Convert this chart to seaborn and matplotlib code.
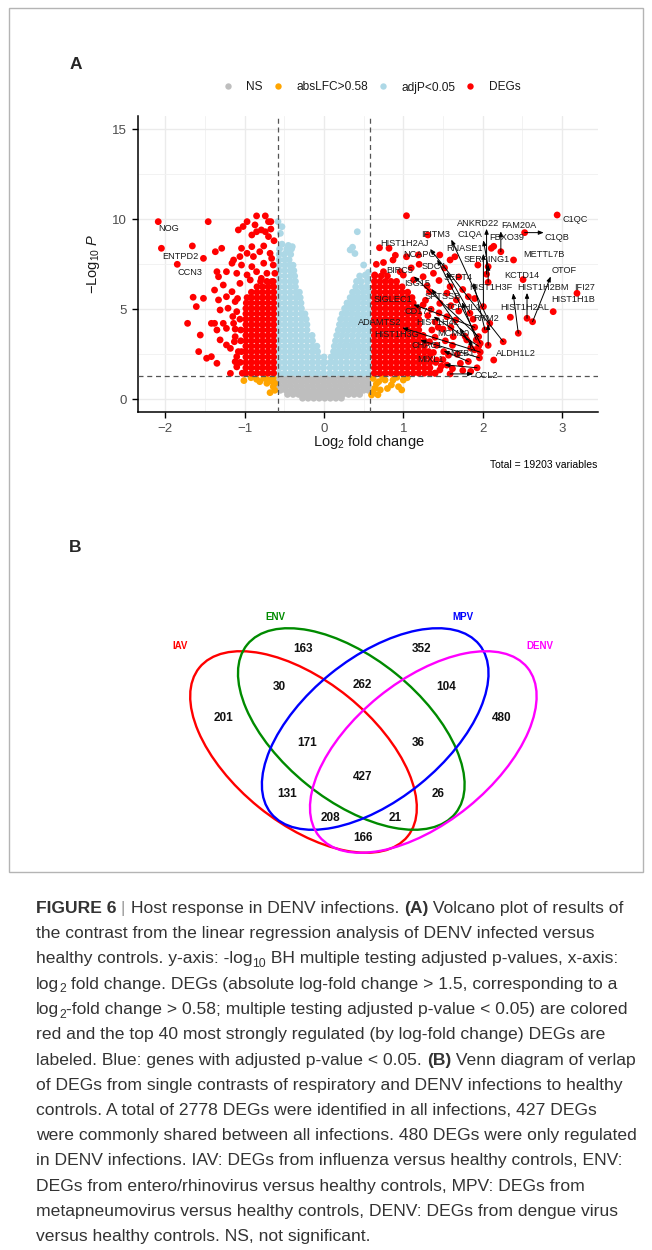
import numpy as np
import pandas as pd
import matplotlib
matplotlib.use("Agg")
import matplotlib.pyplot as plt
import seaborn as sns
from matplotlib.patches import Ellipse, Rectangle
from matplotlib.lines import Line2D

sns.set_theme(style="white")
plt.rcParams["font.family"] = ["Liberation Sans", "DejaVu Sans"]
plt.rcParams["mathtext.fontset"] = "custom"
plt.rcParams["mathtext.rm"] = "Liberation Sans"
plt.rcParams["mathtext.it"] = "Liberation Sans:italic"
plt.rcParams["mathtext.bf"] = "Liberation Sans:bold"

# ------------------------------------------------------------------ data
# Volcano plot: (log2 fold change, -log10 adjusted p)
ns_rows = [
    (1.22, [-0.56, -0.49, -0.42, -0.35, -0.28, -0.21, -0.14, -0.07, 0.00, 0.07, 0.14, 0.21, 0.28, 0.35, 0.42, 0.49, 0.56]),
    (0.98, [-0.57, -0.50, -0.43, -0.36, -0.29, -0.22, -0.15, -0.08, -0.01, 0.06, 0.13, 0.20, 0.27, 0.34, 0.41, 0.48, 0.55]),
    (0.74, [-0.56, -0.49, -0.42, -0.35, -0.28, -0.21, -0.14, -0.07, 0.00, 0.07, 0.14, 0.21, 0.28, 0.35, 0.42, 0.49, 0.56]),
    (0.50, [-0.55, -0.48, -0.41, -0.34, -0.27, -0.20, -0.13, -0.06, 0.01, 0.08, 0.15, 0.22, 0.29, 0.36, 0.43, 0.50, 0.56]),
    (0.27, [-0.46, -0.39, -0.32, -0.25, -0.18, -0.11, -0.04, 0.03, 0.10, 0.17, 0.24, 0.31, 0.38, 0.45]),
    (0.06, [-0.27, -0.20, -0.13, -0.06, 0.01, 0.08, 0.15, 0.22]),
]

lfc_points = [(-1.01, 1.04), (-0.92, 1.20), (-0.85, 1.11), (-0.81, 0.98), (-0.76, 1.17), (-0.75, 1.25),
              (-0.72, 0.89), (-0.70, 1.07), (-0.66, 1.00), (-0.64, 1.17), (-0.64, 0.70), (-0.62, 0.89),
              (-0.62, 0.50), (-0.68, 0.37), (0.62, 1.16), (0.74, 1.22), (0.92, 1.22), (1.05, 1.20),
              (0.69, 0.98), (0.77, 1.07), (0.87, 1.07), (1.00, 1.07), (0.66, 0.85), (0.85, 0.80),
              (0.94, 0.70), (0.64, 0.61), (0.80, 0.60), (0.71, 0.52), (0.98, 0.52), (0.62, 0.40),
              (0.68, 0.25), (0.60, 0.24)]

padj_left_rows = [
    (1.45, [-0.565, -0.495, -0.425, -0.355, -0.285, -0.215, -0.145, -0.075, -0.005]),
    (1.75, [-0.565, -0.495, -0.425, -0.355, -0.285, -0.215, -0.145, -0.075, -0.005]),
    (2.05, [-0.565, -0.495, -0.425, -0.355, -0.285, -0.215, -0.145, -0.075, -0.01]),
    (2.35, [-0.565, -0.495, -0.425, -0.355, -0.285, -0.215, -0.145, -0.075]),
    (2.65, [-0.565, -0.495, -0.425, -0.355, -0.285, -0.215, -0.145, -0.08]),
    (2.95, [-0.565, -0.495, -0.425, -0.355, -0.285, -0.215, -0.145, -0.09]),
    (3.25, [-0.565, -0.495, -0.425, -0.355, -0.285, -0.215, -0.145]),
    (3.55, [-0.565, -0.495, -0.425, -0.355, -0.285, -0.215, -0.15]),
    (3.85, [-0.565, -0.495, -0.425, -0.355, -0.285, -0.215]),
    (4.15, [-0.565, -0.495, -0.425, -0.355, -0.285, -0.215]),
    (4.45, [-0.565, -0.495, -0.425, -0.355, -0.285, -0.225]),
    (4.75, [-0.565, -0.495, -0.425, -0.355, -0.285, -0.24]),
    (5.05, [-0.565, -0.495, -0.425, -0.355, -0.285]),
    (5.35, [-0.565, -0.495, -0.425, -0.355, -0.29]),
    (5.65, [-0.565, -0.495, -0.425, -0.355, -0.30]),
    (5.95, [-0.565, -0.495, -0.425, -0.355, -0.31]),
    (6.25, [-0.565, -0.495, -0.425, -0.36]),
    (6.55, [-0.565, -0.495, -0.425, -0.36]),
    (6.85, [-0.565, -0.495, -0.425, -0.37]),
    (7.15, [-0.565, -0.495, -0.425, -0.38]),
    (7.45, [-0.565, -0.495, -0.43, -0.39]),
    (7.75, [-0.565, -0.495, -0.44]),
    (8.05, [-0.565, -0.50, -0.42]),
    (8.35, [-0.56, -0.47, -0.41]),
]
padj_right_rows = [
    (1.45, [0.075, 0.145, 0.215, 0.285, 0.355, 0.425, 0.495, 0.565]),
    (1.75, [0.075, 0.145, 0.215, 0.285, 0.355, 0.425, 0.495, 0.565]),
    (2.05, [0.08, 0.145, 0.215, 0.285, 0.355, 0.425, 0.495, 0.565]),
    (2.35, [0.09, 0.15, 0.215, 0.285, 0.355, 0.425, 0.495, 0.565]),
    (2.65, [0.12, 0.18, 0.245, 0.31, 0.375, 0.44, 0.50, 0.565]),
    (2.95, [0.13, 0.19, 0.255, 0.32, 0.38, 0.44, 0.50, 0.565]),
    (3.25, [0.145, 0.215, 0.285, 0.355, 0.425, 0.495, 0.565]),
    (3.55, [0.16, 0.225, 0.29, 0.36, 0.43, 0.50, 0.565]),
    (3.85, [0.18, 0.245, 0.31, 0.375, 0.44, 0.50, 0.565]),
    (4.15, [0.195, 0.26, 0.32, 0.38, 0.44, 0.50, 0.565]),
    (4.45, [0.21, 0.275, 0.34, 0.40, 0.46, 0.51, 0.565]),
    (4.75, [0.23, 0.29, 0.355, 0.425, 0.495, 0.565]),
    (5.05, [0.26, 0.32, 0.38, 0.44, 0.50, 0.565]),
    (5.35, [0.29, 0.355, 0.425, 0.495, 0.565]),
    (5.65, [0.33, 0.39, 0.45, 0.51, 0.565]),
    (5.95, [0.36, 0.425, 0.495, 0.565]),
    (6.25, [0.40, 0.47, 0.54]),
    (6.55, [0.41, 0.47, 0.55]),
]
padj_points = [(-0.58, 9.87), (-0.53, 9.59), (-0.55, 9.22), (-0.53, 8.62), (-0.45, 8.55), (-0.40, 8.48),
               (-0.47, 8.20), (0.42, 9.31), (0.33, 8.30), (0.39, 8.10), (0.36, 8.45), (0.50, 7.46),
               (0.52, 6.90), (0.56, 7.05), (0.45, 6.85), (0.55, 6.70), (0.00, 2.35), (0.01, 2.05)]

deg_left_rows = [
    (1.45, [-0.635, -0.705, -0.775, -0.845, -0.915, -0.985, -1.03]),
    (1.75, [-0.635, -0.705, -0.775, -0.845, -0.915, -0.985]),
    (2.05, [-0.635, -0.705, -0.775, -0.845, -0.915, -0.985, -1.055]),
    (2.35, [-0.635, -0.705, -0.775, -0.845, -0.915, -0.985]),
    (2.65, [-0.635, -0.705, -0.775, -0.845, -0.915, -0.985, -1.04]),
    (2.95, [-0.635, -0.705, -0.775, -0.845, -0.915, -0.985]),
    (3.25, [-0.635, -0.705, -0.775, -0.845, -0.915, -0.985, -1.05]),
    (3.55, [-0.635, -0.705, -0.775, -0.845, -0.915, -0.985]),
    (3.85, [-0.635, -0.705, -0.775, -0.845, -0.915, -0.985, -1.05]),
    (4.15, [-0.635, -0.705, -0.775, -0.845, -0.915, -0.985]),
    (4.45, [-0.635, -0.705, -0.775, -0.845, -0.915, -0.985, -1.06]),
    (4.75, [-0.635, -0.705, -0.775, -0.845, -0.915, -0.985]),
    (5.05, [-0.635, -0.705, -0.775, -0.845, -0.915, -0.985]),
    (5.35, [-0.635, -0.705, -0.775, -0.845, -0.915, -0.98]),
    (5.65, [-0.635, -0.705, -0.775, -0.845, -0.915, -0.97]),
    (5.95, [-0.635, -0.705, -0.775, -0.845, -0.915]),
    (6.25, [-0.635, -0.705, -0.775, -0.845]),
    (6.55, [-0.64, -0.72, -0.80]),
]
deg_right_rows = [
    (1.45, [0.635, 0.705, 0.775, 0.845, 0.915, 0.985, 1.055, 1.125, 1.195, 1.265, 1.335, 1.40]),
    (1.75, [0.635, 0.705, 0.775, 0.845, 0.915, 0.985, 1.055, 1.125, 1.195, 1.265, 1.335]),
    (2.05, [0.635, 0.705, 0.775, 0.845, 0.915, 0.985, 1.055, 1.125, 1.195, 1.265, 1.335, 1.41]),
    (2.35, [0.635, 0.705, 0.775, 0.845, 0.915, 0.985, 1.055, 1.125, 1.195, 1.265, 1.335]),
    (2.65, [0.635, 0.705, 0.775, 0.845, 0.915, 0.985, 1.055, 1.125, 1.195, 1.265, 1.32]),
    (2.95, [0.635, 0.705, 0.775, 0.845, 0.915, 0.985, 1.055, 1.125, 1.195, 1.265]),
    (3.25, [0.635, 0.705, 0.775, 0.845, 0.915, 0.985, 1.055, 1.125, 1.195, 1.265]),
    (3.55, [0.635, 0.705, 0.775, 0.845, 0.915, 0.985, 1.055, 1.125, 1.195, 1.25]),
    (3.85, [0.635, 0.705, 0.775, 0.845, 0.915, 0.985, 1.055, 1.125, 1.195]),
    (4.15, [0.635, 0.705, 0.775, 0.845, 0.915, 0.985, 1.055, 1.125, 1.195]),
    (4.45, [0.635, 0.705, 0.775, 0.845, 0.915, 0.985, 1.055, 1.125, 1.195]),
    (4.75, [0.635, 0.705, 0.775, 0.845, 0.915, 0.985, 1.055, 1.125, 1.195]),
    (5.05, [0.635, 0.705, 0.775, 0.845, 0.915, 0.985, 1.055, 1.125, 1.18]),
    (5.35, [0.635, 0.705, 0.775, 0.845, 0.915, 0.985, 1.055, 1.125]),
    (5.65, [0.635, 0.705, 0.775, 0.845, 0.915, 0.985, 1.055, 1.11]),
    (5.95, [0.635, 0.705, 0.775, 0.845, 0.915, 0.985, 1.055]),
    (6.25, [0.635, 0.705, 0.775, 0.845, 0.915, 0.985]),
    (6.55, [0.635, 0.705, 0.775, 0.845, 0.915]),
    (6.85, [0.64, 0.72, 0.80]),
]
deg_points = [
    (-1.46, 9.87), (-1.66, 8.52), (-1.52, 7.83), (-1.37, 8.20), (-1.29, 8.39), (-0.97, 9.87), (-1.08, 9.41),
    (-1.02, 9.60), (-0.87, 9.69), (-0.85, 10.19), (-0.74, 10.19), (-0.70, 9.87), (-0.67, 9.87), (-0.79, 9.41),
    (-0.85, 9.31), (-0.91, 9.13), (-0.74, 9.31), (-0.67, 9.46), (-0.63, 8.81), (-0.70, 9.04), (-1.04, 8.39),
    (-0.91, 8.48), (-0.76, 8.52), (-1.06, 7.93), (-1.14, 7.74), (-0.97, 8.11), (-0.89, 7.93), (-0.81, 8.20),
    (-0.68, 8.11), (-0.66, 7.83), (-1.16, 7.56), (-1.04, 7.46), (-0.91, 7.37), (-0.76, 7.56), (-0.64, 7.46),
    (-1.35, 7.09), (-1.23, 7.09), (-1.10, 7.00), (-0.97, 6.91), (-0.85, 7.09), (-0.72, 7.00), (-0.62, 7.00),
    (-1.33, 6.81), (-1.38, 6.07), (-1.27, 6.35), (-1.16, 5.98), (-1.06, 6.44), (-0.93, 6.63), (-0.79, 6.72),
    (-0.66, 6.54), (-1.65, 5.67), (-1.52, 5.61), (-1.61, 5.15), (-1.33, 5.52), (-1.23, 5.70), (-1.12, 5.43),
    (-1.31, 4.96), (-1.21, 5.06), (-1.10, 4.87), (-1.42, 4.22), (-1.38, 4.22), (-1.72, 4.22), (-1.56, 3.57),
    (-1.35, 3.85), (-1.27, 4.22), (-1.23, 3.94), (-1.14, 4.22), (-1.31, 3.30), (-1.23, 3.02), (-1.12, 3.48),
    (-1.58, 2.65), (-1.48, 2.28), (-1.42, 2.37), (-1.35, 2.00), (-1.18, 2.83), (-1.10, 2.37), (-1.18, 1.44),
    (-1.12, 2.09), (-1.08, 2.65), (-1.12, 3.90), (-1.15, 4.60), (-1.09, 5.60), (-1.10, 1.80), (-1.13, 3.20),
    (1.04, 10.20), (0.70, 8.42), (0.82, 8.39), (0.87, 7.74), (1.04, 7.92), (1.19, 8.02), (1.31, 9.13),
    (1.46, 8.02), (1.59, 7.74), (1.65, 7.92), (1.94, 7.46), (2.11, 8.39), (1.82, 5.70), (1.67, 5.52),
    (1.63, 3.48), (1.55, 4.59), (1.46, 5.33), (1.33, 5.98), (1.59, 6.26), (1.25, 6.81), (1.13, 6.63),
    (0.96, 7.09), (0.75, 7.09), (0.64, 6.91), (1.46, 1.63), (1.42, 2.18), (1.51, 2.65), (1.42, 3.00),
    (1.50, 3.90), (1.40, 4.30), (1.35, 5.00), (1.28, 5.50), (1.45, 6.60), (1.70, 6.80), (1.52, 7.30),
    (1.20, 7.50), (0.90, 8.00), (0.75, 7.60), (1.00, 6.90), (1.10, 7.30), (0.66, 7.50), (1.40, 1.45),
    (1.55, 1.90), (1.68, 2.50), (1.62, 3.00), (1.78, 3.50), (1.60, 4.00), (1.45, 4.80), (1.70, 4.90),
    (1.55, 5.90), (1.75, 6.10), (1.90, 5.60), (1.38, 7.00), (1.30, 6.30), (1.85, 1.55), (1.75, 1.60),
    (1.40, 3.45), (1.38, 2.60), (1.50, 2.20), (1.44, 4.00), (1.48, 1.85), (1.36, 3.85), (1.31, 4.65),
    (1.25, 5.25), (1.57, 2.45), (1.33, 3.20), (1.53, 3.25), (1.62, 1.70), (1.66, 4.40), (1.60, 5.20),
]

gene_names = ["C1QC", "C1QB", "FAM20A", "ANKRD22", "FBXO39", "C1QA", "IFITM3", "HIST1H2AJ", "RNASE1",
              "NCAPG", "SERPING1", "METTL7B", "SDC4", "KCTD14", "OTOF", "BIRC5", "SEPT4", "HIST1H3F",
              "HIST1H2BM", "IFI27", "HIST1H1B", "HIST1H2AL", "ISG15", "SPTSSB", "SIGLEC1", "TCHHL1",
              "RRM2", "CD177", "ADAMTS2", "HIST1H4L", "HIST1H3G", "MCM10", "CHAC1", "MZB1", "MIXL1",
              "ALDH1L2", "CCL2", "NOG", "ENTPD2", "CCN3"]
gene_lfc = [2.94, 2.53, 2.23, 2.05, 2.14, 2.07, 2.09, 2.26, 2.01, 1.97, 2.07, 2.39, 1.84, 2.51, 2.63, 1.95,
            2.03, 2.45, 2.56, 3.19, 2.89, 2.35, 1.90, 1.92, 1.90, 1.88, 2.07, 1.95, 1.97, 1.80, 1.96, 1.85,
            1.82, 1.72, 1.93, 2.14, 1.59, -2.09, -2.05, -1.85]
gene_nlp = [10.24, 9.26, 8.20, 6.95, 8.50, 7.37, 4.22, 3.20, 5.15, 3.11, 6.50, 7.74, 4.78, 6.65, 4.31, 3.48,
            3.85, 3.67, 4.50, 5.89, 4.87, 4.56, 2.75, 3.30, 4.00, 4.45, 3.00, 2.95, 2.62, 3.30, 2.30, 2.85,
            2.10, 2.00, 1.75, 2.18, 1.41, 9.87, 8.39, 7.50]
# label placement (where the repelled labels sit)
label_x = [3.17, 2.94, 2.46, 1.945, 2.30, 1.84, 1.41, 1.02, 1.77, 1.21, 2.05, 2.77, 1.38, 2.49, 3.03, 0.95,
           1.69, 2.10, 2.76, 3.29, 3.14, 2.53, 1.18, 1.50, 0.87, 1.76, 2.04, 1.19, 0.70, 1.43, 0.92, 1.63,
           1.30, 1.74, 1.34, 2.42, 2.04, -1.96, -1.815, -1.685]
label_y = [9.97, 8.98, 9.64, 9.78, 8.98, 9.14, 9.18, 8.66, 8.39, 8.07, 7.78, 8.07, 7.37, 6.90, 7.13, 7.13,
           6.78, 6.20, 6.22, 6.22, 5.55, 5.11, 6.44, 5.70, 5.57, 5.11, 4.49, 4.90, 4.28, 4.28, 3.59, 3.66,
           3.00, 2.52, 2.22, 2.52, 1.31, 9.50, 7.93, 7.06]

groups = ["NS", "absLFC>0.58", "adjP<0.05", "DEGs"]
group_colors = ["#BEBEBE", "#FFA500", "#ADD8E6", "#FF0000"]
total_genes = 19203

# Venn diagram
venn_sets = ["IAV", "ENV", "MPV", "DENV"]
venn_colors = ["#FF0000", "#008B00", "#0000FF", "#FF00FF"]
venn_counts = [163, 352, 30, 262, 104, 201, 480, 171, 36, 427, 131, 26, 208, 21, 166]

# ------------------------------------------------------------------ table
recs = []
for y, xs in ns_rows:
    recs += [(x, y, "NS") for x in xs]
recs += [(x, y, "absLFC>0.58") for x, y in lfc_points]
for rows in (padj_left_rows, padj_right_rows):
    for y, xs in rows:
        recs += [(x, y, "adjP<0.05") for x in xs]
recs += [(x, y, "adjP<0.05") for x, y in padj_points]
for rows in (deg_left_rows, deg_right_rows):
    for y, xs in rows:
        recs += [(x, y, "DEGs") for x in xs]
recs += [(x, y, "DEGs") for x, y in deg_points]
recs += [(x, y, "DEGs") for x, y in zip(gene_lfc, gene_nlp)]
df = pd.DataFrame(recs, columns=["lfc", "nlp", "group"])

# ------------------------------------------------------------------ figure
W, H = 652, 1250
fig = plt.figure(figsize=(W / 100, H / 100), dpi=100)
fig.patch.set_facecolor("white")

page = fig.add_axes([0, 0, 1, 1], zorder=0)
page.set_xlim(0, W)
page.set_ylim(H, 0)
page.axis("off")

# panel frame
page.add_patch(Rectangle((9, 8), 634, 864, fill=False, ec="#B4B4B4", lw=1.0))

# ---------------- volcano
L, R, T, B = 137.7, 598, 116, 411.7
ax = fig.add_axes([L / W, 1 - B / H, (R - L) / W, (B - T) / H], zorder=1)
ax.set_facecolor("white")
sns.scatterplot(data=df, x="lfc", y="nlp", hue="group", hue_order=groups,
                palette=dict(zip(groups, group_colors)), s=24, linewidth=0,
                alpha=1, legend=False, ax=ax, zorder=3)
ax.set_xlim(-2.349, 3.455)
ax.set_ylim(-0.689, 15.74)
ax.set_xticks([-2, -1, 0, 1, 2, 3])
ax.set_yticks([0, 5, 10, 15])
ax.set_xticks([-1.5, -0.5, 0.5, 1.5, 2.5], minor=True)
ax.set_yticks([2.5, 7.5, 12.5], minor=True)
ax.grid(which="major", color="#EBEBEB", lw=1.0, zorder=0)
ax.grid(which="minor", color="#F2F2F2", lw=0.7, zorder=0)
ax.set_axisbelow(True)
for s in ["top", "right"]:
    ax.spines[s].set_visible(False)
for s in ["left", "bottom"]:
    ax.spines[s].set_color("black")
    ax.spines[s].set_linewidth(1.1)
ax.tick_params(which="major", direction="out", length=4, width=1, color="black",
               labelsize=9.5, labelcolor="#4D4D4D", pad=4, left=True, bottom=True)
ax.tick_params(which="minor", length=0)
ax.set_xlabel("")
ax.set_ylabel("")
for xv in (-0.58, 0.58):
    ax.axvline(xv, color="#555555", lw=0.9, ls=(0, (4, 3)), zorder=4)
ax.axhline(-np.log10(0.05), color="#555555", lw=0.9, ls=(0, (4, 3)), zorder=4)

texts = []
for name, lx, ly in zip(gene_names, label_x, label_y):
    texts.append(ax.text(lx, ly, name, ha="center", va="center", fontsize=6.6,
                         color="#1A1A1A", zorder=6))

fig.text(93 / W, 1 - 264 / H, r"$-\mathrm{Log}_{10}\ \mathit{P}$", rotation=90,
         ha="center", va="center", fontsize=10.5, color="#1A1A1A")
fig.text(369 / W, 1 - 442 / H, r"$\mathrm{Log}_{2}$ fold change", ha="center", va="center",
         fontsize=10.5, color="#1A1A1A")
fig.text(597 / W, 1 - 465 / H, f"Total = {total_genes} variables", ha="right", va="center",
         fontsize=7.5, color="black")

handles = [Line2D([0], [0], marker="o", ls="", markersize=4.6, markerfacecolor=c,
                  markeredgewidth=0) for c in group_colors]
fig.legend(handles, groups, ncol=4, loc="center", bbox_to_anchor=(372 / W, 1 - 87.5 / H),
           frameon=False, fontsize=8.6, handlelength=0.7, handletextpad=1.2,
           columnspacing=0.9, labelcolor="#1A1A1A")

page.text(75.5, 64.5, "A", fontsize=12.5, fontweight="bold", ha="center", va="center")
page.text(75.5, 548, "B", fontsize=12.5, fontweight="bold", ha="center", va="center")

# ---------------- Venn
ell_centers = [(303.5, 752), (351.3, 729), (375.2, 729), (423.3, 752)]
ell_angles = [39, 39, -39, -39]
for (cx, cy), ang, col in zip(ell_centers, ell_angles, venn_colors):
    page.add_patch(Ellipse((cx, cy), 268, 142, angle=ang, fill=False, ec=col, lw=1.7))
set_label_pos = [(180, 646), (275.5, 617), (462.5, 617), (539.5, 646)]
for name, (x, y), col in zip(venn_sets, set_label_pos, venn_colors):
    page.text(x, y, name, color=col, fontsize=7, fontweight="bold", ha="center", va="center")
region_pos = [(303.3, 649.3), (421.7, 649.3), (279.3, 687.3), (362.7, 684.7), (446, 687.3),
              (223.3, 718.3), (501.7, 718.3), (306.7, 742.7), (418.3, 742.7), (362.7, 777.3),
              (286.7, 794), (438.3, 794), (330.7, 817.7), (395, 817.7), (362.7, 837.7)]
for v, (x, y) in zip(venn_counts, region_pos):
    page.text(x, y, str(v), fontsize=8.5, fontweight="bold", ha="center", va="center", color="#111111")

# ---------------- caption
caption = [
    [("FIGURE 6", "b"), (" | ", "g"), ("Host response in DENV infections. ", "n"), ("(A)", "b"),
     (" Volcano plot of results of", "n")],
    [("the contrast from the linear regression analysis of DENV infected versus", "n")],
    [("healthy controls. y-axis: -log", "n"), ("10", "s"), (" BH multiple testing adjusted p-values, x-axis:", "n")],
    [("log", "n"), ("2", "s"), (" fold change. DEGs (absolute log-fold change > 1.5, corresponding to a", "n")],
    [("log", "n"), ("2", "s"), ("-fold change > 0.58; multiple testing adjusted p-value < 0.05) are colored", "n")],
    [("red and the top 40 most strongly regulated (by log-fold change) DEGs are", "n")],
    [("labeled. Blue: genes with adjusted p-value < 0.05. ", "n"), ("(B)", "b"), (" Venn diagram of verlap", "n")],
    [("of DEGs from single contrasts of respiratory and DENV infections to healthy", "n")],
    [("controls. A total of 2778 DEGs were identified in all infections, 427 DEGs", "n")],
    [("were commonly shared between all infections. 480 DEGs were only regulated", "n")],
    [("in DENV infections. IAV: DEGs from influenza versus healthy controls, ENV:", "n")],
    [("DEGs from entero/rhinovirus versus healthy controls, MPV: DEGs from", "n")],
    [("metapneumovirus versus healthy controls, DENV: DEGs from dengue virus", "n")],
    [("versus healthy controls. NS, not significant.", "n")],
]
fig.canvas.draw()
renderer = fig.canvas.get_renderer()


def text_width(s, size, weight):
    t = page.text(0, 0, "." + s + ".", fontsize=size, fontweight=weight)
    w1 = t.get_window_extent(renderer).width
    t.remove()
    t = page.text(0, 0, "..", fontsize=size, fontweight=weight)
    w0 = t.get_window_extent(renderer).width
    t.remove()
    return w1 - w0


cap_size = 12.6
cap_x0 = 36
for i, line in enumerate(caption):
    base = 913 + 25.25 * i
    x = cap_x0
    for s, kind in line:
        size = cap_size * 0.7 if kind == "s" else cap_size
        weight = "bold" if kind == "b" else "normal"
        color = "#999999" if kind == "g" else "#333333"
        y = base + 3.5 if kind == "s" else base
        page.text(x, y, s, fontsize=size, fontweight=weight, color=color, ha="left", va="baseline")
        x += text_width(s, size, weight)

# ---------------- connectors for gene labels
fig.canvas.draw()
renderer = fig.canvas.get_renderer()
inv = ax.transData.inverted()
for t, gx, gy in zip(texts, gene_lfc, gene_nlp):
    bb = t.get_window_extent(renderer)
    px, py = ax.transData.transform((gx, gy))
    cx = min(max(px, bb.x0 - 1), bb.x1 + 1)
    cy = min(max(py, bb.y0 - 1), bb.y1 + 1)
    if np.hypot(px - cx, py - cy) < 9:
        continue
    end = inv.transform((cx, cy))
    ax.annotate("", xy=end, xytext=(gx, gy),
                arrowprops=dict(arrowstyle="-|>,head_length=0.25,head_width=0.1", color="black",
                                lw=0.7, shrinkA=0, shrinkB=0), zorder=5)

fig.savefig("out.png", dpi=100, facecolor="white")
